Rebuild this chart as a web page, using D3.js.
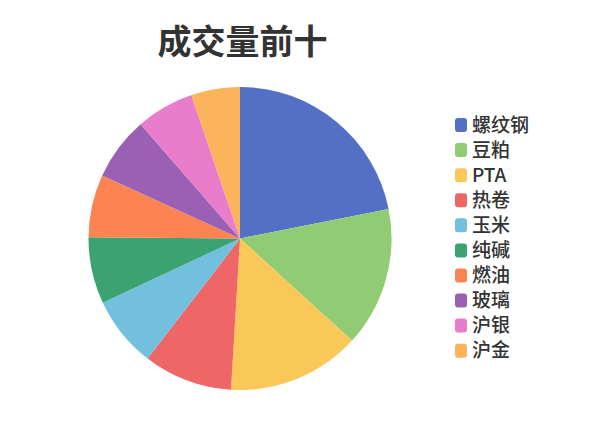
<!DOCTYPE html>
<html>
<head>
<meta charset="utf-8">
<script src="https://cdn.jsdelivr.net/npm/d3@7"></script>
<style>
  body { margin: 0; background: #fff; }
  svg { display: block; font-family: "Noto Sans CJK SC", "Noto Sans", sans-serif; }
</style>
</head>
<body>
<svg id="chart"></svg>
<script>
var width = 600, height = 428;

// 成交量前十
var names = ['螺纹钢', '豆粕', 'PTA', '热卷', '玉米', '纯碱', '燃油', '玻璃', '沪银', '沪金'];
var volumes = [219, 149, 142, 95, 76, 71, 67, 68, 62, 52];
var colors = ['#5470c6', '#91cc75', '#fac858', '#ee6666', '#73c0de',
              '#3ba272', '#fc8452', '#9a60b4', '#ea7ccc', '#fbb45c'];

var svg = d3.select("#chart")
	.attr("width", width)
	.attr("height", height);

// title
svg.append("text")
	.attr("x", 242.5)
	.attr("y", 54)
	.attr("text-anchor", "middle")
	.attr("font-size", "34px")
	.attr("font-weight", 600)
	.attr("fill", "#333")
	.text("成交量前十");

var cx = 240, cy = 238.5, radius = 151.5;

var pie = d3.pie()
	.sort(null)
	.value(d => d);

var arc = d3.arc()
	.innerRadius(0)
	.outerRadius(radius);

var color = d3.scaleOrdinal().domain(names).range(colors);

var g = svg.append("g")
	.attr("transform", "translate(" + cx + "," + cy + ")");

g.selectAll("path")
	.data(pie(volumes))
	.enter()
	.append("path")
	.attr("d", arc)
	.attr("fill", (d, i) => color(names[i]));

// legend
var legendY = d3.scalePoint()
	.domain(names)
	.range([125, 350.7]);

var legend = svg.selectAll(".legend")
	.data(names)
	.enter()
	.append("g")
	.attr("class", "legend")
	.attr("transform", d => "translate(455," + legendY(d) + ")");

legend.append("rect")
	.attr("x", 0)
	.attr("y", -7)
	.attr("width", 12)
	.attr("height", 14)
	.attr("rx", 3)
	.attr("fill", d => color(d));

legend.append("text")
	.attr("x", 17)
	.attr("y", 0)
	.attr("dy", "0.35em")
	.attr("font-size", "19px")
	.attr("font-weight", 500)
	.attr("fill", "#333")
	.text(d => d);
</script>
</body>
</html>
